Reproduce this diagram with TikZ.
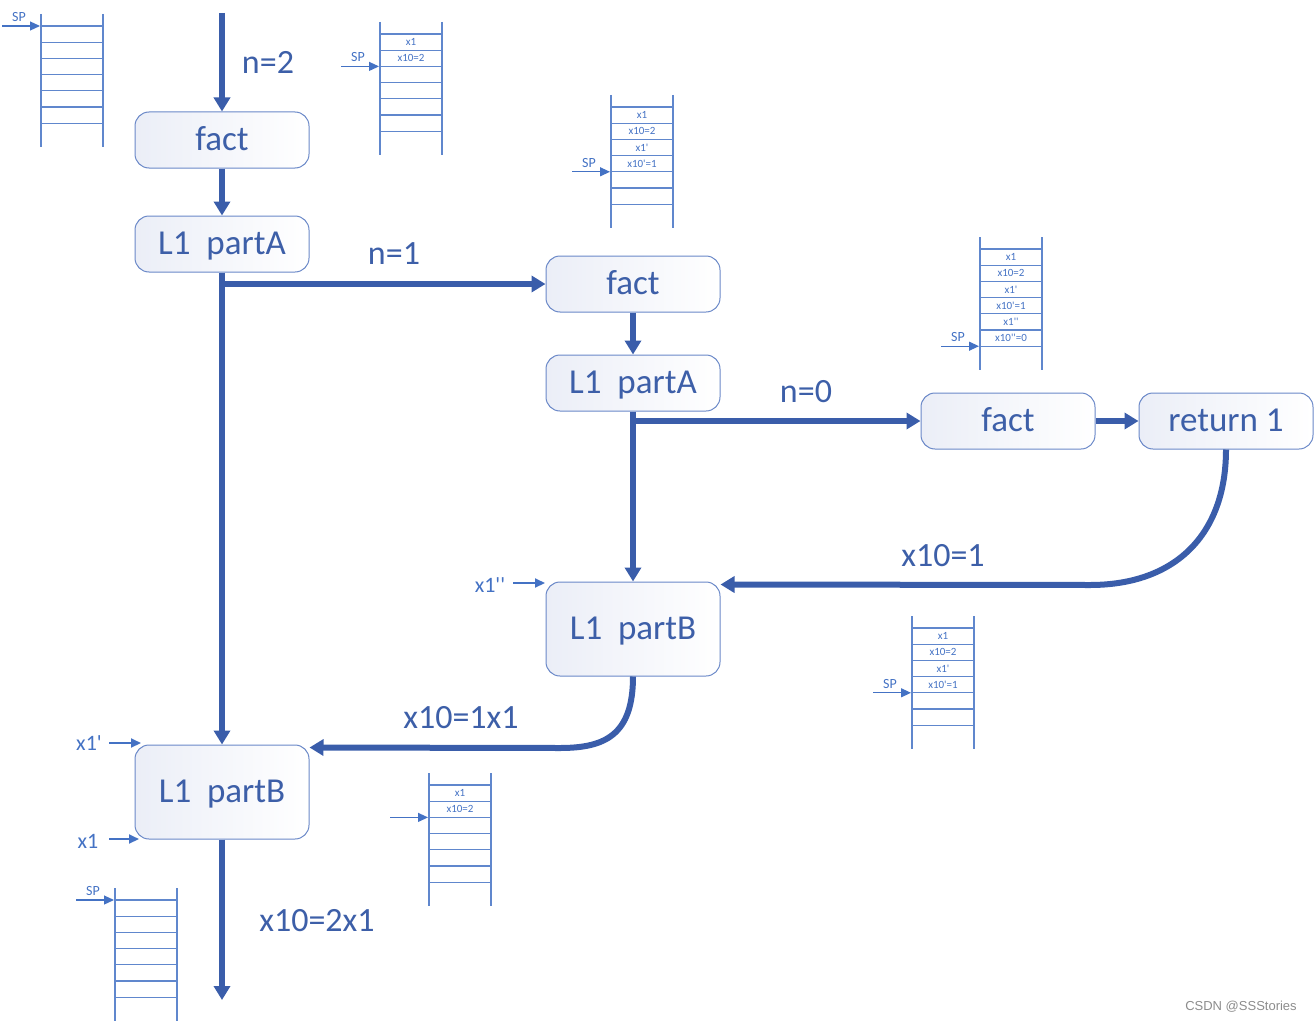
\documentclass[tikz,border=0pt]{standalone}
\usepackage{fontspec}
\setmainfont{Carlito}
\newfontfamily\wmfont{Liberation Sans}
\usetikzlibrary{arrows.meta,calc}
\definecolor{thickc}{HTML}{3A5DAA}
\definecolor{txt}{HTML}{3D5FA8}
\definecolor{lite}{HTML}{4472C4}
\definecolor{bord}{HTML}{6A88C8}
\definecolor{shadeL}{HTML}{EBEEF7}
\tikzset{
 box/.style={draw=bord, line width=1pt, rounded corners=14pt, left color=shadeL, right color=white,
   minimum width=174pt, minimum height=56pt, text=txt, font=\fontsize{35}{42}\selectfont, inner sep=0pt,
   text height=26pt, text depth=5pt},
 tall/.style={minimum height=94pt},
 flow/.style={draw=thickc, line width=6pt, -{Triangle[length=14pt,width=16pt]}},
 lab/.style={text=txt, font=\fontsize{34}{40}\selectfont, inner sep=0pt},
 smalllab/.style={text=lite, font=\fontsize{22}{26}\selectfont, inner sep=0pt},
 thinarrow/.style={draw=lite, line width=2pt, -{Triangle[length=10pt,width=9pt]}},
 stk/.style={draw=lite!85, line width=1.2pt},
 stktxt/.style={text=lite, font=\fontsize{11}{12}\selectfont, inner sep=0pt},
 sptxt/.style={text=lite, font=\fontsize{14}{16}\selectfont, inner sep=0pt},
}
% #1 name, #2 x left, #3 y of first line, #4 index of SP line, #5 show SP text (1/0)
\newcommand\mystack[5]{%
  \draw[stk] (#2,#3-12) -- (#2,#3+121) (#2+62,#3-12) -- (#2+62,#3+121);
  \foreach \i in {0,...,6} {\draw[stk] (#2,#3+\i*16.2) -- (#2+62,#3+\i*16.2);}
  \coordinate (#1spA) at (#2-39,#3+#4*16.2);
  \coordinate (#1spB) at (#2-1,#3+#4*16.2);
  \draw[thinarrow, line width=1.2pt] (#1spA) -- (#1spB);
  \ifnum#5=1 \node[sptxt] (#1sp) at (#2-22,#3+#4*16.2-9) {SP};\fi
}
% #1 name, #2 x left, #3 y first line, #4 row, #5 text
\newcommand\stkcell[5]{\node[stktxt] (#1) at (#2+31,#3+#4*16.2+8.1) {#5};}
\newcommand\q{\textquotesingle}
\begin{document}
\begin{tikzpicture}[x=1pt,y=-1pt]
\useasboundingbox (0,0) rectangle (1316,1022);
% boxes
\node[box] (F1) at (222,140) {fact};
\node[box] (A1) at (222,244) {L1\ \ partA};
\node[box] (F2) at (633,284) {fact};
\node[box] (A2) at (633,383) {L1\ \ partA};
\node[box] (F3) at (1008,421) {fact};
\node[box] (R) at (1226,421) {return 1};
\node[box,tall] (B2) at (633,629) {L1\ \ partB};
\node[box,tall] (B1) at (222,792) {L1\ \ partB};
% flow
\coordinate (start) at (222,13);
\coordinate (end) at (222,1000);
\draw[flow] (start) -- (F1.north);
\draw[flow] (F1.south) -- (A1.north);
\draw[flow] (A1.south) -- (B1.north);
\draw[flow] (A1.south |- F2.west) -- (F2.west);
\draw[flow] (F2.south) -- (A2.north);
\draw[flow] (A2.south) -- (B2.north);
\draw[flow] (A2.south |- F3.west) -- (F3.west);
\draw[flow] (F3.east) -- (R.west);
\draw[flow] (R.south) .. controls (1226,535) and (1175,585) .. (1090,585) -- ($(B2.north east)+(0,3)$);
\draw[flow] (B2.south) .. controls (633,735) and (605,748) .. (560,748) -- ($(B1.north east)+(0,3)$);
\draw[flow] (B1.south) -- (end);
% labels
\node[lab] (n2) at (268,62) {n=2};
\node[lab] (n1) at (394,254) {n=1};
\node[lab] (n0) at (806,392) {n=0};
\node[lab] (l1) at (943,556) {x10=1};
\node[lab] (l2) at (461,718) {x10=1x1};
\node[lab] (l3) at (317,921) {x10=2x1};
% small markers
\node[smalllab] (m1) at (490,585) {x1\q\q};
\coordinate (m1e) at (545,583);
\draw[thinarrow] (513,583) -- (m1e);
\node[smalllab] (m2) at (89,743) {x1\q};
\coordinate (m2e) at (141,743);
\draw[thinarrow] (109,743) -- (m2e);
\node[smalllab] (m3) at (88,841) {x1};
\coordinate (m3e) at (139,839);
\draw[thinarrow] (109,839) -- (m3e);
% stacks
\mystack{sa}{41}{26}{0}{1}
\mystack{sb}{380}{34}{2}{1}
\stkcell{sb0}{380}{34}{0}{x1}
\stkcell{sb1}{380}{34}{1}{x10=2}
\mystack{sc}{611}{107}{4}{1}
\stkcell{sc0}{611}{107}{0}{x1}
\stkcell{sc1}{611}{107}{1}{x10=2}
\stkcell{sc2}{611}{107}{2}{x1\q}
\stkcell{sc3}{611}{107}{3}{x10\q=1}
\mystack{sd}{980}{249}{6}{1}
\stkcell{sd0}{980}{249}{0}{x1}
\stkcell{sd1}{980}{249}{1}{x10=2}
\stkcell{sd2}{980}{249}{2}{x1\q}
\stkcell{sd3}{980}{249}{3}{x10\q=1}
\stkcell{sd4}{980}{249}{4}{x1\q\q}
\stkcell{sd5}{980}{249}{5}{x10\q\q=0}
\mystack{se}{912}{628}{4}{1}
\stkcell{se0}{912}{628}{0}{x1}
\stkcell{se1}{912}{628}{1}{x10=2}
\stkcell{se2}{912}{628}{2}{x1\q}
\stkcell{se3}{912}{628}{3}{x10\q=1}
\mystack{sf}{429}{785}{2}{0}
\stkcell{sf0}{429}{785}{0}{x1}
\stkcell{sf1}{429}{785}{1}{x10=2}
\mystack{sg}{115}{900}{0}{1}
% watermark
\node[font=\wmfont\fontsize{13}{15}\selectfont, text=black!45, inner sep=0pt] (wm) at (1241,1007) {CSDN @SSStories};
\end{tikzpicture}
\end{document}
